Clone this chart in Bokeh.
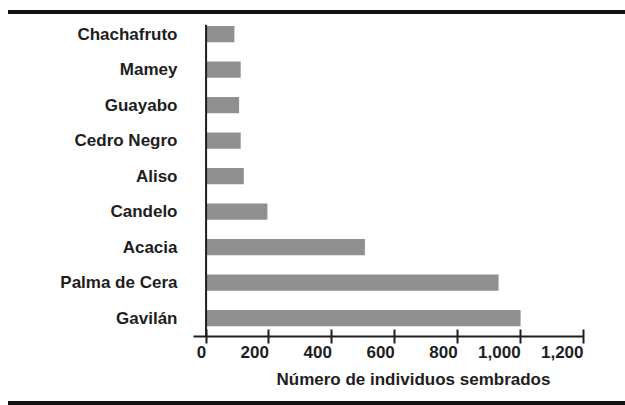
from bokeh.plotting import figure
from bokeh.layouts import column
from bokeh.models import (Range1d, FixedTicker, Span, Title, LinearAxis, Div)
from bokeh.embed import file_html
from bokeh.resources import INLINE

species = ["Gavilán", "Palma de Cera", "Acacia", "Candelo", "Aliso",
           "Cedro Negro", "Guayabo", "Mamey", "Chachafruto"]
counts = [1000, 930, 505, 195, 120, 110, 105, 110, 90]
x_ticks = [0, 200, 400, 600, 800, 1000, 1200]
x_tick_labels = ["0", "200", "400", "600", "800", "1,000", "1,200"]
x_title = "Número de individuos sembrados"

W = 625
FONT = "Liberation Sans"
FS = 17
INK = "#1e1e1e"
X0, X1 = -40, 1200
BL, BR, BT, BB = 193, 42, 10, 65
PH = 387

ys = list(range(len(species)))

p = figure(width=W, height=PH, output_backend="svg", toolbar_location=None,
           x_range=Range1d(X0, X1), y_range=Range1d(-0.52, 8.27),
           min_border_left=BL, min_border_right=BR, min_border_top=BT,
           min_border_bottom=BB)
p.outline_line_color = None
p.grid.visible = False

p.hbar(y=ys, left=0, right=counts, height=0.46, fill_color="#8f8f8f", line_color=None)
p.add_layout(Span(location=0, dimension="height", line_color=INK, line_width=2))

# y axis
ya = p.yaxis[0]
ya.ticker = FixedTicker(ticks=ys)
ya.major_label_overrides = {i: s for i, s in zip(ys, species)}
ya.axis_line_color = None
ya.major_tick_line_color = None
ya.minor_tick_line_color = None
ya.major_tick_out = 0
ya.major_tick_in = 0
ya.major_label_standoff = 16
ya.major_label_text_font = FONT
ya.major_label_text_font_style = "bold"
ya.major_label_text_font_size = f"{FS}px"
ya.major_label_text_color = INK

# x axis: line and tick marks only (labels not drawn)
xa = p.xaxis[0]
xa.ticker = FixedTicker(ticks=x_ticks)
xa.axis_line_width = 2
xa.axis_line_color = INK
xa.major_tick_in = 7
xa.major_tick_out = 7
xa.major_tick_line_width = 2
xa.major_tick_line_color = INK
xa.minor_tick_line_color = None
xa.major_label_text_font_size = "1px"
xa.major_label_text_color = None
xa.major_label_standoff = 0

# x tick labels, ending at their tick (right aligned)
px_per_unit = (W - BL - BR) / (X1 - X0)
char_w = {",": 0.278}
def half_width_units(s):
    return sum(char_w.get(c, 0.556) for c in s) * FS / 2 / px_per_unit
label_pos = [t - half_width_units(s) for t, s in zip(x_ticks, x_tick_labels)]
xl = LinearAxis(ticker=FixedTicker(ticks=label_pos),
                major_label_overrides={pos: s for pos, s in zip(label_pos, x_tick_labels)},
                axis_line_color=None, major_tick_line_color=None,
                minor_tick_line_color=None, major_tick_out=0, major_tick_in=0,
                major_label_standoff=2,
                major_label_text_font=FONT, major_label_text_font_style="bold",
                major_label_text_font_size=f"{FS}px", major_label_text_color=INK)
p.add_layout(xl, "below")

p.add_layout(Title(text=x_title, align="left", offset=83, text_font=FONT,
                   text_font_style="bold", text_font_size=f"{FS}px",
                   text_color=INK, standoff=14), "below")

top_gap = Div(width=W, height=10, margin=0)
rule_top = Div(width=W - 8, height=4, margin=(0, 0, 0, 8),
               styles={"background-color": "#111111"})
rule_bot = Div(width=W - 8, height=4, margin=(0, 0, 0, 8),
               styles={"background-color": "#111111"})

layout = column(top_gap, rule_top, p, rule_bot, spacing=0)

open("out.html", "w").write(file_html(layout, INLINE))
